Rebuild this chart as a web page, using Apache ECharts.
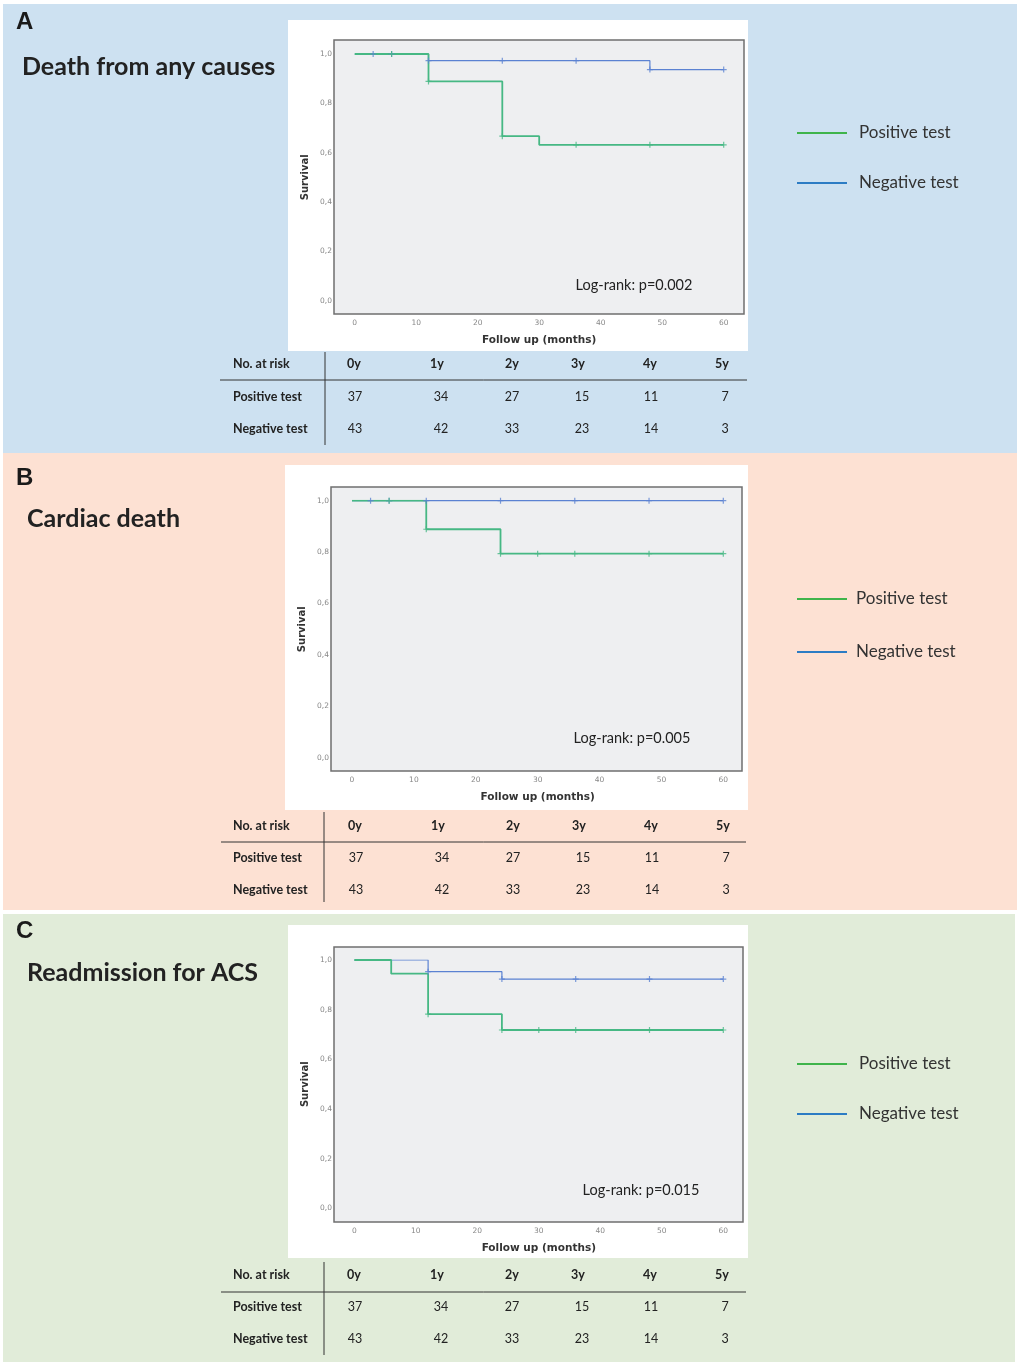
<!DOCTYPE html>
<html>
<head>
<meta charset="utf-8">
<script src="https://cdn.jsdelivr.net/npm/echarts@6/dist/echarts.min.js"></script>
<style>
  html, body { margin: 0; padding: 0; background: #fff; }
  #chart { width: 1017px; height: 1364px; }
</style>
</head>
<body>
<div id="chart"></div>
<script>
// ---- data ----
const panelLetters = ['A', 'B', 'C']
const panelTitles = ['Death from any causes', 'Cardiac death', 'Readmission for ACS']
const logRankTexts = ['Log-rank: p=0.002', 'Log-rank: p=0.005', 'Log-rank: p=0.015']
const groupNames = ['Positive test', 'Negative test']
const riskYears = ['0y', '1y', '2y', '3y', '4y', '5y']
const positiveAtRisk = [37, 34, 27, 15, 11, 7]
const negativeAtRisk = [43, 42, 33, 23, 14, 3]

// Kaplan-Meier steps: [month, survival]
const allCausePos = [[0, 1], [12, 0.889], [24, 0.667], [30, 0.632], [60, 0.632]]
const allCauseNeg = [[0, 1], [12, 0.973], [48, 0.937], [60, 0.937]]
const allCausePosCens = [[6, 1], [12, 0.889], [24, 0.667], [36, 0.632], [48, 0.632], [60, 0.632]]
const allCauseNegCens = [[3, 1], [6, 1], [12, 0.973], [24, 0.973], [36, 0.973], [48, 0.937], [60, 0.937]]

const cardiacPos = [[0, 1], [12, 0.889], [24, 0.794], [60, 0.794]]
const cardiacNeg = [[0, 1], [60, 1]]
const cardiacPosCens = [[6, 1], [12, 0.889], [24, 0.794], [30, 0.794], [36, 0.794], [48, 0.794], [60, 0.794]]
const cardiacNegCens = [[3, 1], [6, 1], [12, 1], [24, 1], [36, 1], [48, 1], [60, 1]]

const acsPos = [[0, 1], [6, 0.945], [12, 0.782], [24, 0.718], [60, 0.718]]
const acsNeg = [[0, 1], [12, 0.953], [24, 0.923], [60, 0.923]]
const acsPosCens = [[12, 0.782], [24, 0.718], [30, 0.718], [36, 0.718], [48, 0.718], [60, 0.718]]
const acsNegCens = [[12, 0.953], [24, 0.923], [36, 0.923], [48, 0.923], [60, 0.923]]

const curves = [
  { pos: allCausePos, neg: allCauseNeg, posCens: allCausePosCens, negCens: allCauseNegCens },
  { pos: cardiacPos, neg: cardiacNeg, posCens: cardiacPosCens, negCens: cardiacNegCens },
  { pos: acsPos, neg: acsNeg, posCens: acsPosCens, negCens: acsNegCens }
]

// ---- layout (pixels) ----
const panels = [
  {
    bg: [3, 4, 1014, 449], bgColor: '#cde1f1', card: [288, 20, 460, 331],
    box: [334, 40, 410, 274], x0: 354.7, x60: 723.7, y1: 54, y0: 300.7,
    letterY: 22, titleX: 22, titleY: 67, legendY: [133, 183], legendTextX: 859,
    logRank: [634, 285],
    table: { header: 364, rows: [397, 429], vline: [325, 352, 445], hline: [380, 220, 747], dx: 0 }
  },
  {
    bg: [3, 453, 1014, 457], bgColor: '#fde1d3', card: [285, 465, 463, 345],
    box: [331, 487, 411, 284], x0: 352, x60: 723.3, y1: 500.7, y0: 757.7,
    letterY: 478, titleX: 27, titleY: 519, legendY: [599, 652], legendTextX: 856,
    logRank: [632, 738],
    table: { header: 826, rows: [858, 890], vline: [324, 812, 902], hline: [842, 221, 746], dx: 1 }
  },
  {
    bg: [3, 914, 1012, 448], bgColor: '#e1ecd9', card: [288, 925, 460, 333],
    box: [334, 947, 409, 275], x0: 354.3, x60: 723.3, y1: 960, y0: 1208.3,
    letterY: 931, titleX: 27, titleY: 973, legendY: [1064, 1114], legendTextX: 859,
    logRank: [641, 1190],
    table: { header: 1275, rows: [1307, 1339], vline: [324, 1262, 1355], hline: [1292, 221, 746], dx: 0 }
  }
]
const headerCols = [354, 437, 512, 578, 650, 722]
const valueCols = [355, 441, 512, 582, 651, 725]

const posLine = '#46b884'
const negLine = '#5b82d2'
const posLegend = '#3fb44b'
const negLegend = '#2c7cc4'
const plusSymbol = 'path://M4 0h2v4h4v2h-4v4h-2v-4h-4v-2h4z'

const chart = echarts.init(document.getElementById('chart'))

const grids = []
const xAxes = []
const yAxes = []
const series = []
const graphics = []
const legends = []

panels.forEach((p, i) => {
  // backgrounds
  graphics.push({ type: 'rect', z: 0, shape: { x: p.bg[0], y: p.bg[1], width: p.bg[2], height: p.bg[3] }, style: { fill: p.bgColor } })
  graphics.push({ type: 'rect', z: 0, shape: { x: p.card[0], y: p.card[1], width: p.card[2], height: p.card[3] }, style: { fill: '#ffffff' } })
  graphics.push({ type: 'rect', z: 1, shape: { x: p.box[0], y: p.box[1], width: p.box[2], height: p.box[3] }, style: { fill: '#eeeff1', stroke: '#6f6f6f', lineWidth: 1.5 } })

  // titles
  graphics.push({ type: 'text', z: 3, x: 16, y: p.letterY, style: { text: panelLetters[i], font: 'bold 24px "Liberation Sans", Arial, sans-serif', fill: '#1a1a1a', verticalAlign: 'middle' } })
  graphics.push({ type: 'text', z: 3, x: p.titleX, y: p.titleY, style: { text: panelTitles[i], font: 'bold 25px Lato, "Open Sans", sans-serif', fill: '#222', verticalAlign: 'middle' } })
  graphics.push({ type: 'text', z: 3, x: p.logRank[0], y: p.logRank[1], style: { text: logRankTexts[i], font: '14.5px Lato, "Open Sans", sans-serif', fill: '#222', align: 'center', verticalAlign: 'middle' } })

  // number at risk table
  const t = p.table
  graphics.push({ type: 'line', z: 3, shape: { x1: t.vline[0], y1: t.vline[1], x2: t.vline[0], y2: t.vline[2] }, style: { stroke: '#333', lineWidth: 1 } })
  graphics.push({ type: 'line', z: 3, shape: { x1: t.hline[1], y1: t.hline[0], x2: t.hline[2], y2: t.hline[0] }, style: { stroke: '#333', lineWidth: 1 } })
  const boldFont = 'bold 12.5px Lato, "Open Sans", sans-serif'
  const plainFont = '12.5px Lato, "Open Sans", sans-serif'
  graphics.push({ type: 'text', z: 3, x: 233, y: t.header, style: { text: 'No. at risk', font: boldFont, fill: '#222', verticalAlign: 'middle' } })
  graphics.push({ type: 'text', z: 3, x: 233, y: t.rows[0], style: { text: groupNames[0], font: boldFont, fill: '#222', verticalAlign: 'middle' } })
  graphics.push({ type: 'text', z: 3, x: 233, y: t.rows[1], style: { text: groupNames[1], font: boldFont, fill: '#222', verticalAlign: 'middle' } })
  riskYears.forEach((yr, k) => {
    graphics.push({ type: 'text', z: 3, x: headerCols[k] + t.dx, y: t.header, style: { text: yr, font: boldFont, fill: '#222', align: 'center', verticalAlign: 'middle' } })
    graphics.push({ type: 'text', z: 3, x: valueCols[k] + t.dx, y: t.rows[0], style: { text: String(positiveAtRisk[k]), font: plainFont, fill: '#222', align: 'center', verticalAlign: 'middle' } })
    graphics.push({ type: 'text', z: 3, x: valueCols[k] + t.dx, y: t.rows[1], style: { text: String(negativeAtRisk[k]), font: plainFont, fill: '#222', align: 'center', verticalAlign: 'middle' } })
  })

  // legend
  legends.push({
    left: 797,
    top: p.legendY[0] - 10,
    padding: 0,
    orient: 'vertical',
    icon: 'rect',
    itemWidth: 50,
    itemHeight: 2,
    itemGap: p.legendY[1] - p.legendY[0] - 20,
    selectedMode: false,
    textStyle: { fontFamily: 'Lato, "Open Sans", sans-serif', fontSize: 17, color: '#333', lineHeight: 20, padding: [0, 0, 0, p.legendTextX - 797 - 55] },
    data: [
      { name: groupNames[0], itemStyle: { color: posLegend } },
      { name: groupNames[1], itemStyle: { color: negLegend } }
    ]
  })

  // plot
  grids.push({ left: p.x0, top: p.y1, width: p.x60 - p.x0, height: p.y0 - p.y1, show: false })
  xAxes.push({
    gridIndex: i, type: 'value', min: 0, max: 60, interval: 10,
    offset: p.box[1] + p.box[3] - p.y0,
    name: 'Follow up (months)', nameLocation: 'middle', nameGap: 21,
    nameTextStyle: { fontFamily: '"DejaVu Sans", sans-serif', fontWeight: 'bold', fontSize: 10.5, color: '#333' },
    axisLine: { show: false },
    axisTick: { show: true, length: 3, lineStyle: { color: '#777' } },
    axisLabel: { fontFamily: '"DejaVu Sans", sans-serif', fontSize: 7.5, color: '#888', margin: 5 },
    splitLine: { show: false }
  })
  yAxes.push({
    gridIndex: i, type: 'value', min: 0, max: 1, interval: 0.2,
    offset: p.x0 - p.box[0],
    name: 'Survival', nameLocation: 'middle', nameGap: 24,
    nameTextStyle: { fontFamily: '"DejaVu Sans", sans-serif', fontWeight: 'bold', fontSize: 10, color: '#333' },
    axisLine: { show: false },
    axisTick: { show: true, length: 5, lineStyle: { color: '#777' } },
    axisLabel: { fontFamily: '"DejaVu Sans", sans-serif', fontSize: 7.5, color: '#888', margin: 2, formatter: v => v.toFixed(1).replace('.', ',') },
    splitLine: { show: false }
  })

  const c = curves[i]
  series.push({ name: groupNames[1], type: 'line', step: 'end', xAxisIndex: i, yAxisIndex: i, data: c.neg, showSymbol: false, lineStyle: { color: negLine, width: 1.2 }, itemStyle: { color: negLine }, z: 3 })
  series.push({ name: groupNames[0], type: 'line', step: 'end', xAxisIndex: i, yAxisIndex: i, data: c.pos, showSymbol: false, lineStyle: { color: posLine, width: 1.8 }, itemStyle: { color: posLine }, z: 4 })
  series.push({ name: 'neg-censored', type: 'scatter', xAxisIndex: i, yAxisIndex: i, data: c.negCens, symbol: plusSymbol, symbolSize: 6, itemStyle: { color: negLine }, z: 5 })
  series.push({ name: 'pos-censored', type: 'scatter', xAxisIndex: i, yAxisIndex: i, data: c.posCens, symbol: plusSymbol, symbolSize: 6, itemStyle: { color: posLine }, z: 6 })
})

chart.setOption({
  animation: false,
  backgroundColor: '#ffffff',
  grid: grids,
  xAxis: xAxes,
  yAxis: yAxes,
  legend: legends,
  graphic: { elements: graphics },
  series: series
})

window.addEventListener('resize', () => chart.resize())
</script>
</body>
</html>
